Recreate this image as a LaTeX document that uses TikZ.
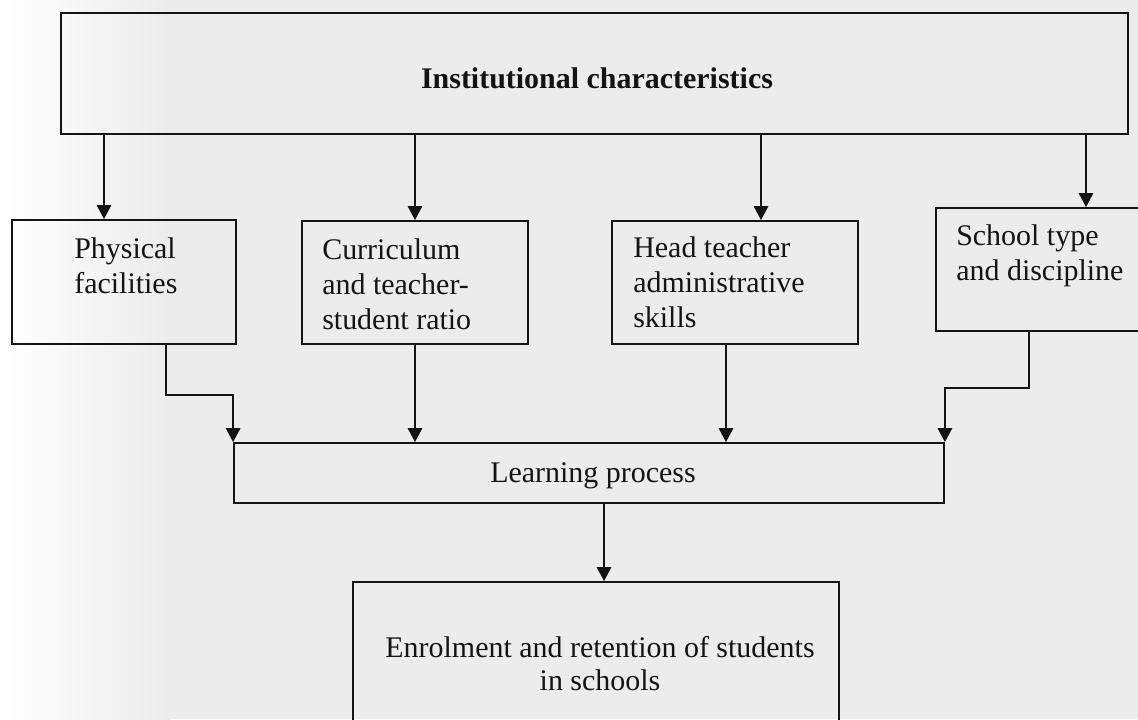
\documentclass[tikz,border=0pt]{standalone}
\usepackage{fontspec}
\setmainfont{Liberation Serif}
\usetikzlibrary{arrows.meta,fit}

\definecolor{paper}{gray}{0.925}
\definecolor{ink}{gray}{0.08}

\begin{document}
\begin{tikzpicture}[x=0.025cm, y=-0.025cm,
    box/.style={draw=ink, line width=1.3pt, inner sep=0pt},
    txt/.style={inner sep=0pt, align=left, anchor=north west, text=ink},
    arr/.style={draw=ink, line width=1.3pt, -{Triangle[length=0.35cm, width=0.36cm]}},
    font=\fontsize{21.3}{25}\selectfont]
  \clip (0,0) rectangle (1138,719);
  \fill[paper] (0,0) rectangle (1138,719);
  \shade[left color=white, right color=paper] (0,0) rectangle (170,719);

  % top level
  \node[box, fit={(61,13) (1128,134)}] (inst) {};
  \node[anchor=base, inner sep=0pt, text=ink, font=\fontsize{21.3}{25}\selectfont\bfseries]
    (instT) at (597,88) {Institutional characteristics};

  % the four factors
  \node[box, fit={(12,220) (236,344)}] (phys) {};
  \node[txt] (physT) at (74,237.5) {Physical\\facilities};
  \node[box, fit={(302,221) (528,344)}] (curr) {};
  \node[txt] (currT) at (322,238.5) {Curriculum\\and teacher-\\student ratio};
  \node[box, fit={(612,221) (858,344)}] (head) {};
  \node[txt] (headT) at (633,236.5) {Head teacher\\administrative\\skills};
  \node[box, fit={(936,208) (1170,331)}] (school) {};
  \node[txt] (schoolT) at (956,224.5) {School type\\and discipline};

  % process and outcome
  \node[box, fit={(234,443) (944,503)}] (learn) {};
  \node[anchor=base, inner sep=0pt, text=ink] (learnT) at (593,482) {Learning process};
  \node[box, fit={(353,582) (839,760)}] (enrol) {};
  \node[anchor=north, inner sep=0pt, align=center, text=ink,
    font=\fontsize{21.3}{23.5}\selectfont] (enrolT) at (600,636.5)
    {Enrolment and retention of students\\in schools};

  % arrows down from the top box
  \draw[arr] ([xshift=-0.5cm]phys.north |- inst.south) -- ([xshift=-0.5cm]phys.north);
  \draw[arr] (curr.north |- inst.south) -- (curr.north);
  \draw[arr] ([xshift=0.65cm]head.north |- inst.south) -- ([xshift=0.65cm]head.north);
  \draw[arr] ([xshift=3.772cm]school.north west |- inst.south) -- ([xshift=3.772cm]school.north west);

  % into the learning process
  \draw[arr] ([xshift=1.05cm]phys.south) -- ++(0,50) -| (learn.north west);
  \draw[arr] (curr.south) -- (curr.south |- learn.north);
  \draw[arr] ([xshift=-0.225cm]head.south) -- ([xshift=-0.225cm]head.south |- learn.north);
  \draw[arr] ([xshift=2.35cm]school.south west) -- ++(0,56) -| (learn.north east);

  \draw[arr] ([xshift=0.375cm]learn.south) -- ([xshift=0.375cm]learn.south |- enrol.north);
\end{tikzpicture}
\end{document}
